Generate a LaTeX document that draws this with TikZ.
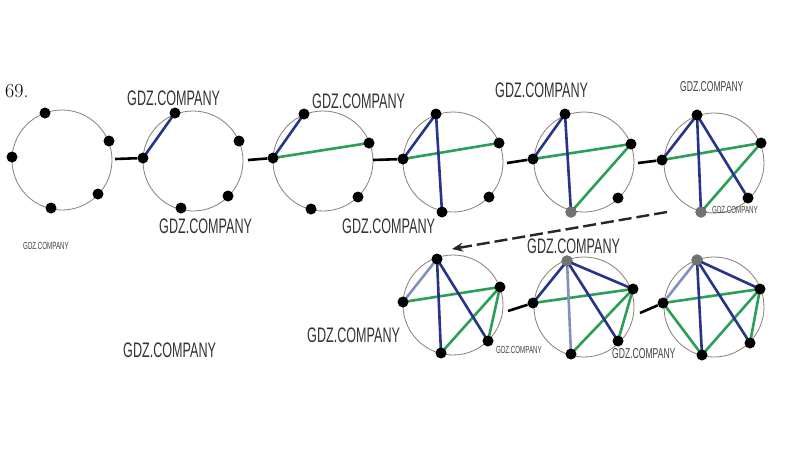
\documentclass[tikz,border=0pt]{standalone}
\usepackage{fontspec}
\newfontfamily\wmfont[FakeStretch=0.6]{Liberation Sans}
\usetikzlibrary{arrows.meta,backgrounds}
\definecolor{eblue}{RGB}{38,52,138}
\definecolor{egreen}{RGB}{44,158,88}
\definecolor{ering}{RGB}{140,126,112}
\definecolor{lblue}{RGB}{130,145,190}
\tikzset{
  pt/.style={circle,fill=black,inner sep=0pt,minimum size=11pt},
  gpt/.style={circle,fill=black!55,inner sep=0pt,minimum size=11pt},
  ringline/.style={draw=ering,line width=0.8pt},
  be/.style={draw=eblue,line width=2.6pt},
  lbe/.style={draw=lblue,line width=2.6pt},
  ge/.style={draw=egreen,line width=2.6pt},
  conn/.style={draw=black,line width=2.6pt},
  wmL/.style={font=\wmfont\fontsize{21}{21}\selectfont,text=black!80,inner sep=0pt,anchor=base west},
  wmM/.style={font=\wmfont\fontsize{14.3}{15}\selectfont,text=black!75,inner sep=0pt,anchor=base west},
  wmS/.style={font=\wmfont\fontsize{10.3}{11}\selectfont,text=black!75,inner sep=0pt,anchor=base west},
}
% #1 name, #2 center, #3 A top, #4 B right, #5 C left, #6 D bottom, #7 E lower right
\newcommand{\mkring}[7]{%
  \begin{pgfonlayer}{background}\draw[ringline] (#2) circle[radius=50pt];\end{pgfonlayer}
  \node[pt] (#1A) at (#3) {};
  \node[pt] (#1B) at (#4) {};
  \node[pt] (#1C) at (#5) {};
  \node[pt] (#1D) at (#6) {};
  \node[pt] (#1E) at (#7) {};
}
\newcommand{\edge}[3]{\begin{pgfonlayer}{background}\draw[#1] (#2.center) -- (#3.center);\end{pgfonlayer}}
\begin{document}
\begin{tikzpicture}[x=1pt,y=-1pt]
\begin{pgfonlayer}{background}\fill[white] (0,0) rectangle (808,467);\end{pgfonlayer}
\useasboundingbox (0,0) rectangle (808,467);

\node[inner sep=0pt,anchor=base west,font=\fontsize{20}{20}\selectfont] (num) at (5,97) {69.};

% row 1
\mkring{a}{62,160}{45,113}{109,141}{12,157}{51,208}{98,194}
\mkring{b}{193,161}{175,113}{239,141}{143,158}{181,208}{228,196}
\mkring{c}{323,161}{304,114}{369,143}{273,158}{311,209}{358,197}
\mkring{d}{453,162}{436,114}{499,143}{403,159}{442,212}{489,197}
\mkring{e}{584,162}{565,114}{631,144}{533,159}{571,212}{618,198}
\mkring{f}{714,163}{697,115}{761,143}{662,160}{701,212}{748,198}
% row 2
\mkring{g}{453,305}{437,259}{500,287}{403,302}{441,353}{488,341}
\mkring{h}{584,307}{567,261}{633,289}{533,303}{571,354}{618,341}
\mkring{i}{714,307}{697,260}{760,289}{663,303}{702,355}{750,343}

% grey points
\node[gpt] at (eD) {};
\node[gpt] at (fD) {};
\node[gpt] at (hA) {};
\node[gpt] at (iA) {};

% edges
\edge{be}{bC}{bA}
\edge{be}{cC}{cA} \edge{ge}{cC}{cB}
\edge{be}{dC}{dA} \edge{ge}{dC}{dB} \edge{be}{dA}{dD}
\edge{be}{eC}{eA} \edge{ge}{eC}{eB} \edge{be}{eA}{eD} \edge{ge}{eB}{eD}
\edge{be}{fC}{fA} \edge{ge}{fC}{fB} \edge{be}{fA}{fD} \edge{ge}{fB}{fD} \edge{be}{fA}{fE}
\edge{lbe}{gC}{gA} \edge{ge}{gC}{gB} \edge{be}{gA}{gD} \edge{ge}{gB}{gD} \edge{be}{gA}{gE} \edge{ge}{gB}{gE}
\edge{be}{hC}{hA} \edge{ge}{hC}{hB} \edge{lbe}{hA}{hD} \edge{ge}{hB}{hD} \edge{be}{hA}{hE} \edge{ge}{hB}{hE} \edge{be}{hA}{hB}
\edge{lbe}{iC}{iA} \edge{ge}{iC}{iB} \edge{be}{iA}{iD} \edge{ge}{iB}{iD} \edge{be}{iA}{iE} \edge{ge}{iB}{iE} \edge{be}{iA}{iB} \edge{ge}{iC}{iD}

% connectors
\coordinate (k1) at (115,159);
\coordinate (k2) at (248,160);
\coordinate (k3) at (373,160);
\coordinate (k4) at (507,163);
\coordinate (k5) at (638,163);
\coordinate (k7) at (508,311);
\coordinate (k8) at (640,313);
\draw[conn] (k1) -- (bC);
\draw[conn] (k2) -- (cC);
\draw[conn] (k3) -- (dC);
\draw[conn] (k4) -- (eC);
\draw[conn] (k5) -- (fC);
\draw[conn] (k7) -- (hC);
\draw[conn] (k8) -- (iC);

\coordinate (arrS) at (667,212);
\coordinate (arrE) at (452,249);
\draw[black!85,line width=2.4pt,dash pattern=on 13pt off 5pt,-{Stealth[length=11pt,width=9pt]}] (arrS) -- (arrE);

% watermarks
\node[wmL] (w1) at (127,105) {GDZ.COMPANY};
\node[wmL] (w2) at (159,233) {GDZ.COMPANY};
\node[wmL] (w3) at (312,108) {GDZ.COMPANY};
\node[wmL] (w4) at (342,233) {GDZ.COMPANY};
\node[wmL] (w5) at (495,97) {GDZ.COMPANY};
\node[wmM] (w6) at (680,91) {GDZ.COMPANY};
\node[wmS] (w7) at (23,249) {GDZ.COMPANY};
\node[wmL] (w8) at (527,253) {GDZ.COMPANY};
\node[wmL] (w9) at (307,342) {GDZ.COMPANY};
\node[wmS] (w10) at (496,353) {GDZ.COMPANY};
\node[wmM] (w11) at (612,358) {GDZ.COMPANY};
\node[wmL] (w12) at (123,357) {GDZ.COMPANY};
\node[wmS] (w13) at (712,213) {GDZ.COMPANY};
\end{tikzpicture}
\end{document}
